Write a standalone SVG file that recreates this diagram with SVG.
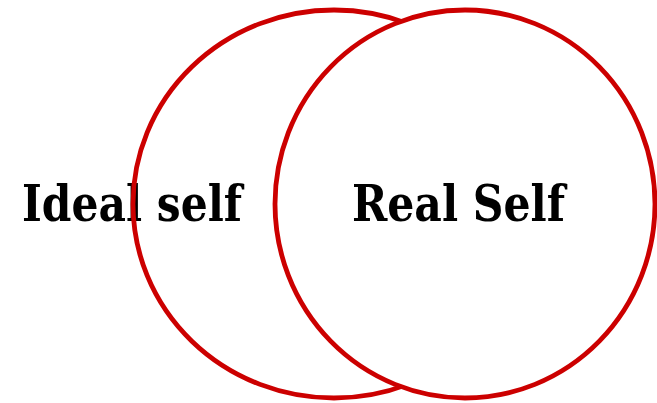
<svg xmlns="http://www.w3.org/2000/svg" width="657" height="403" viewBox="0 0 657 403">
<style>
.lbl{font-family:"DejaVu Serif Condensed","DejaVu Serif",serif;font-weight:bold;font-size:50px;fill:#000}
.ring{stroke:#cc0000;stroke-width:4.8}
</style>
<rect width="657" height="403" fill="#fff"/>
<g id="ideal-self">
<text class="lbl" x="22" y="221" textLength="220" lengthAdjust="spacingAndGlyphs">Ideal self</text>
<ellipse class="ring" cx="334" cy="204" rx="201" ry="194" fill="none"/>
</g>
<g id="real-self">
<ellipse class="ring" cx="465" cy="204" rx="190" ry="194" fill="#fff"/>
<text class="lbl" x="352" y="221" textLength="213" lengthAdjust="spacingAndGlyphs">Real Self</text>
</g>
<g id="connectors"/>
</svg>
